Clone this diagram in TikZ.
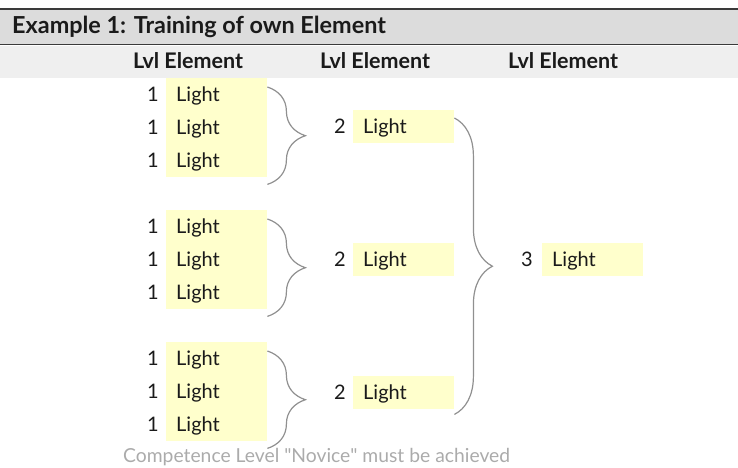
\documentclass[tikz,border=0pt]{standalone}
\usepackage{fontspec}
\setmainfont{Lato}
\usetikzlibrary{decorations.pathreplacing}
\definecolor{barfill}{HTML}{DCDCDC}
\definecolor{headfill}{HTML}{EFEFEF}
\definecolor{cellfill}{HTML}{FFFFCC}
\definecolor{bracecol}{HTML}{909090}
\definecolor{notecol}{HTML}{ABABAB}
\definecolor{rulecol}{HTML}{3A3A3A}
\definecolor{inkcol}{HTML}{1A1A1A}

\begin{document}
\begin{tikzpicture}[x=1pt,y=-1pt,
  every node/.style={text=inkcol},
  cell/.style={fill=cellfill, anchor=north west, text width=81pt, align=left,
               inner xsep=10pt, inner ysep=0pt, minimum height=33pt,
               text height=17pt, text depth=3pt,
               font=\fontsize{20}{20}\selectfont},
  lvlnum/.style={anchor=base, inner sep=0pt, font=\fontsize{20}{20}\selectfont},
  colhead/.style={anchor=base west, inner sep=0pt, font=\bfseries\fontsize{21.5}{21.5}\selectfont},
  curly/.style={draw=bracecol, line width=1.2pt, decorate,
                decoration={brace, amplitude=38pt}}]
\useasboundingbox (0,0) rectangle (738,467);

% title bar and column header band
\fill[barfill] (0,9) rectangle (738,44);
\fill[headfill] (0,45.5) rectangle (738,78);
\draw[rulecol, line width=2pt] (0,9) -- (738,9);
\draw[rulecol, line width=1.5pt] (0,44.5) -- (738,44.5);
\node[anchor=base west, inner sep=0pt, font=\bfseries\fontsize{23.4}{23.4}\selectfont]
  (title) at (12,33) {Example 1: Training of own Element};
\node[colhead] (h1) at (133,68) {Lvl Element};
\node[colhead] (h2) at (320,68) {Lvl Element};
\node[colhead] (h3) at (508,68) {Lvl Element};

% level 1 elements
\foreach \g/\top in {1/78, 2/210, 3/342} {
  \foreach \r in {1,2,3} {
    \node[cell] (a\g\r) at (166,{\top+33*(\r-1)}) {Light};
    \node[lvlnum] (na\g\r) at (153,{\top+33*(\r-1)+23.5}) {1};
  }
}

% level 2 elements
\foreach \g/\top in {1/110, 2/243, 3/376} {
  \node[cell] (b\g) at (353,\top) {Light};
  \node[lvlnum] (nb\g) at (340,\top+23.5) {2};
}

% level 3 element
\node[cell] (c1) at (542,243) {Light};
\node[lvlnum] (nc1) at (527,266.5) {3};

% braces joining the levels
\foreach \g in {1,2,3} {
  \draw[curly] ([yshift=-9pt]a\g1.north east) -- ([yshift=-7pt]a\g3.south east);
}
\draw[curly] ([yshift=-8pt]b1.north east) -- ([yshift=-5pt]b3.south east);

% note below the chart
\node[anchor=base west, inner sep=0pt, text=notecol, font=\fontsize{19.3}{19.3}\selectfont]
  (note) at (123,462) {Competence Level \textquotedbl Novice\textquotedbl\ must be achieved};
\end{tikzpicture}
\end{document}
